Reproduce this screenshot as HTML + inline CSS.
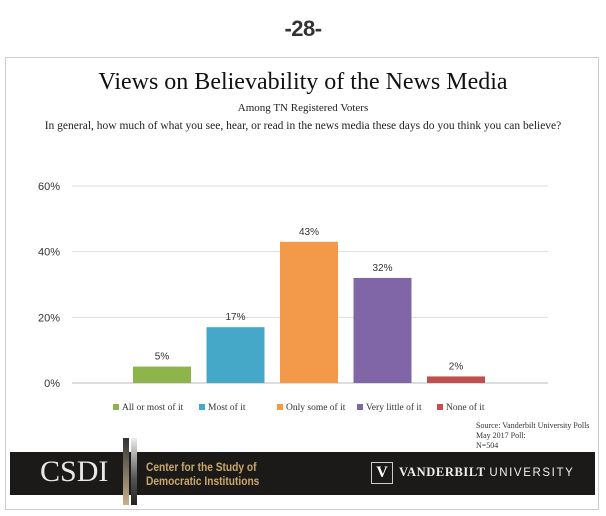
<!DOCTYPE html>
<html><head><meta charset="utf-8"><style>
body{margin:0;width:606px;height:516px;background:#fff;overflow:hidden;position:relative;font-family:"Liberation Serif",serif}
.abs{position:absolute}
</style></head><body>
<div class="abs" style="left:0;width:606px;top:16px;text-align:center;font:bold 22px 'Liberation Sans',sans-serif;color:#333;letter-spacing:-0.5px">-28-</div>
<div class="abs" style="left:5px;top:57px;width:594px;height:453px;border:1px solid #ccc;box-sizing:border-box"></div>
<div class="abs" style="left:0;width:606px;top:69px;text-align:center;font-size:24px;color:#111">Views on Believability of the News Media</div>
<div class="abs" style="left:0;width:606px;top:102px;text-align:center;font-size:11px;color:#222">Among TN Registered Voters</div>
<div class="abs" style="left:0;width:606px;top:120px;text-align:center;font-size:11.5px;color:#222">In general, how much of what you see, hear, or read in the news media these days do you think you can believe?</div>
<svg class="abs" style="left:0;top:0" width="606" height="516" id="chart"></svg>
<div class="abs" style="left:476px;top:421px;font-size:8px;line-height:10px;color:#333">Source: Vanderbilt University Polls<br>May 2017 Poll:<br>N=504</div>
<div class="abs" style="left:10px;top:452px;width:585px;height:43px;background:#1c1a19"></div>
<div class="abs" style="left:123px;top:438px;width:6px;height:67px;background:linear-gradient(#333,#c8b28a)"></div>
<div class="abs" style="left:131px;top:438px;width:6px;height:67px;background:linear-gradient(#eee,#555 60%,#222)"></div>
<div class="abs" style="left:40px;top:455px;font-size:30px;color:#e8e8e8">CSDI</div>
<div class="abs" style="left:146px;top:460px;font:bold 12px/14px 'Liberation Sans',sans-serif;color:#c9a86a;transform:scaleX(.85);transform-origin:left">Center for the Study of<br>Democratic Institutions</div>
<div class="abs" style="left:371px;top:462px;width:20px;height:20px;border:1px solid #ccc;color:#fff;font:bold 16px/20px 'Liberation Serif',serif;text-align:center">V</div>
<div class="abs" style="left:399px;top:465px;font-size:12.5px;color:#eee;letter-spacing:0.6px"><b>VANDERBILT</b> <span style="font-family:'Liberation Sans',sans-serif;font-size:11.5px;letter-spacing:1.6px">UNIVERSITY</span></div>
<script>
const categories=["All or most of it","Most of it","Only some of it","Very little of it","None of it"];
const values=[5,17,43,32,2];
const colors=["#8db54c","#46a8c8","#f3994a","#8166a7","#c0504d"];
const ticks=[0,20,40,60];
const svg=document.getElementById('chart');const NS='http://www.w3.org/2000/svg';
const y0=383,y1=186,x0=72,x1=548;
const y=v=>y0-(v/60)*(y0-y1);
const bw=58,step=73.5,bx=i=>133+i*step;
function el(t,a){const e=document.createElementNS(NS,t);for(const k in a)e.setAttribute(k,a[k]);svg.appendChild(e);return e;}
ticks.forEach(t=>{
 const l=el('line',{x1:x0,x2:x1,y1:y(t),y2:y(t),stroke:t?'#ddd':'#bbb','stroke-width':1});
 
 
 const tx=el('text',{x:60,y:y(t)+4,'text-anchor':'end','font-family':'Liberation Sans, sans-serif','font-size':11,fill:'#333'});
 tx.textContent=t+'%';
 
 
});
values.forEach((v,i)=>{
 const r=el('rect',{x:bx(i),y:y(v),width:bw,height:y0-y(v),fill:colors[i]});
 
 
 const t=el('text',{x:bx(i)+bw/2,y:y(v)-7,'text-anchor':'middle','font-family':'Liberation Sans, sans-serif','font-size':10,fill:'#333'});
 t.textContent=v+'%';
 
 
});
const lx=[113,199,277,357,437];
categories.forEach((c,i)=>{
 const r=el('rect',{x:lx[i],y:404,width:6,height:6,fill:colors[i]});
 
 
 const t=el('text',{x:lx[i]+9,y:410,'font-family':'Liberation Serif, serif','font-size':9.5,fill:'#333'});
 t.textContent=c;
 
 
});
</script>
</body></html>
